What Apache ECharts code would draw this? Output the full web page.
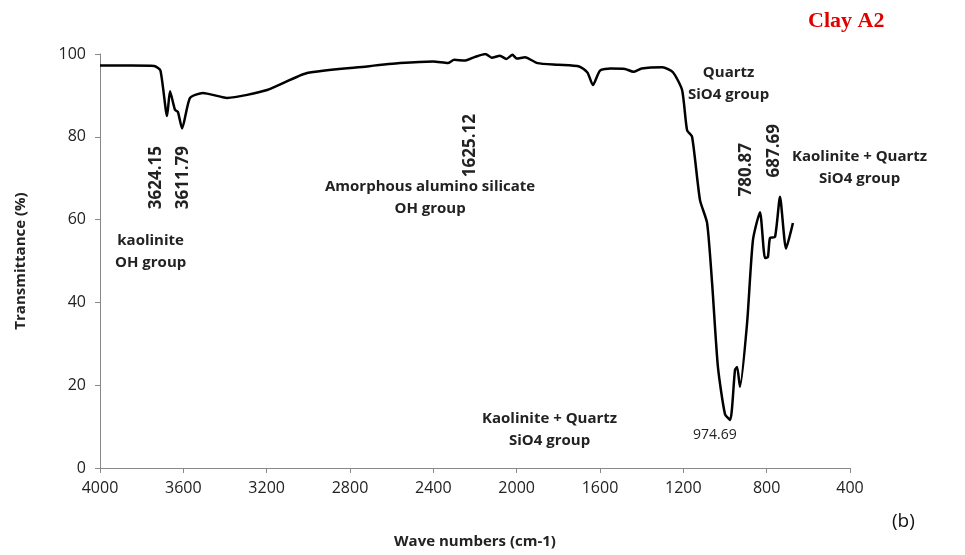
<!doctype html>
<html>
<head>
<meta charset="utf-8">
<script src="https://cdn.jsdelivr.net/npm/echarts@6/dist/echarts.min.js"></script>
<style>html,body{margin:0;background:#fff}#main{width:965px;height:555px}</style>
</head>
<body>
<div id="main"></div>
<script>
var waveNumbers = [4000, 3850, 3740, 3710, 3678, 3664, 3640, 3626, 3606, 3568, 3506, 3390, 3198, 3006, 2718, 2560,
  2400, 2330, 2300, 2250, 2200, 2150, 2120, 2080, 2050, 2020, 2000, 1960, 1900, 1800, 1700, 1660, 1634, 1600, 1550,
  1480, 1440, 1400, 1300, 1250, 1206, 1182, 1158, 1120, 1086, 1062, 1034, 1000, 975, 952, 942, 928, 894, 866, 832,
  808, 794, 784, 760, 736, 707, 674];
var transmittance = [97.2, 97.2, 97.1, 96, 85, 91, 86.5, 86, 82, 89.4, 90.6, 89.4, 91.3, 95.4, 97, 97.8,
  98.2, 97.8, 98.6, 98.4, 99.3, 100, 99.1, 99.6, 98.8, 99.8, 98.9, 99.2, 97.8, 97.4, 97, 95.5, 92.5, 96, 96.5,
  96.4, 95.7, 96.5, 96.8, 95.6, 91.3, 81.6, 80, 64.7, 59.2, 44.7, 24.4, 13, 11.6, 23.7, 24.4, 19.6, 35, 55, 61.8,
  50.7, 51, 55.6, 55.8, 65.5, 53, 59.2];

var data = waveNumbers.map(function (w, i) { return [w, transmittance[i]]; });
var chart = echarts.init(document.getElementById('main'));
var bold = {fontFamily: 'Open Sans', fontWeight: 'bold', fontSize: 15, fill: '#222', textAlign: 'center', lineHeight: 22};
function txt(x, y, s, extra) {
  return {type: 'text', left: x, top: y, style: Object.assign({text: s}, bold, extra || {})};
}
function rot(x, y, s) {
  return {type: 'text', x: x, y: y, rotation: Math.PI / 2, style: Object.assign({text: s}, bold, {fontSize: 17, textAlign: 'right', textVerticalAlign: 'middle'})};
}
chart.setOption({
  animation: false,
  grid: {left: 100, right: 115, top: 54, bottom: 87},
  xAxis: {
    type: 'value', min: 400, max: 4000, interval: 400, inverse: true,
    name: 'Wave numbers (cm-1)', nameLocation: 'middle', nameGap: 66,
    nameTextStyle: {fontFamily: 'Open Sans', fontWeight: 'bold', fontSize: 15, color: '#222'},
    axisLine: {lineStyle: {color: '#888'}}, axisTick: {show: true, lineStyle: {color: '#888'}},
    axisLabel: {fontFamily: 'Open Sans', fontSize: 16, color: '#222', margin: 12, formatter: function (v) { return String(v); }},
    splitLine: {show: false}
  },
  yAxis: {
    type: 'value', min: 0, max: 100, interval: 20,
    name: 'Transmittance (%)', nameLocation: 'middle', nameGap: 72,
    nameTextStyle: {fontFamily: 'Open Sans', fontWeight: 'bold', fontSize: 15, color: '#222'},
    axisLine: {show: true, lineStyle: {color: '#888'}}, axisTick: {show: true, lineStyle: {color: '#888'}},
    axisLabel: {fontFamily: 'Open Sans', fontSize: 16, color: '#222', margin: 14},
    splitLine: {show: false}
  },
  series: [{
    type: 'line', data: data, showSymbol: false, smooth: 0.2,
    lineStyle: {color: '#000', width: 2.5}
  }],
  graphic: [
    {type: 'text', left: 808, top: 10, style: {text: 'Clay A2', fill: '#e00000', fontFamily: 'Liberation Serif', fontWeight: 'bold', fontSize: 22}},
    {type: 'text', left: 892, top: 512, style: {text: '(b)', fill: '#111', fontFamily: 'Open Sans', fontSize: 19}},
    rot(156, 146, '3624.15'), rot(183, 146, '3611.79'), rot(470, 114, '1625.12'),
    rot(746, 143, '780.87'), rot(774, 124, '687.69'),
    txt(115, 230, 'kaolinite\nOH group'),
    txt(325, 176, 'Amorphous alumino silicate\nOH group'),
    txt(688, 62, 'Quartz\nSiO4 group'),
    txt(792, 146, 'Kaolinite + Quartz\nSiO4 group'),
    txt(482, 408, 'Kaolinite + Quartz\nSiO4 group'),
    {type: 'text', left: 693, top: 428, style: {text: '974.69', fill: '#222', fontFamily: 'Open Sans', fontSize: 14}}
  ]
});
</script>
</body>
</html>
